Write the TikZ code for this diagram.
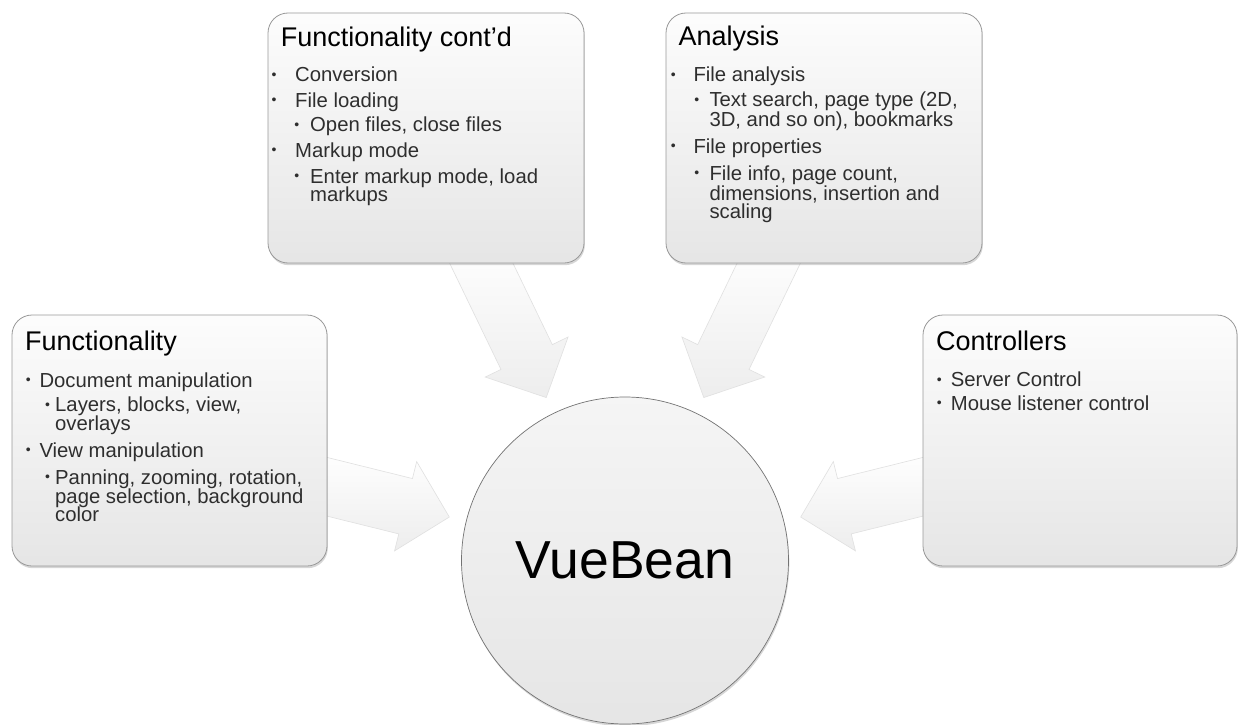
\documentclass[tikz,border=0pt]{standalone}
\usepackage{fontspec}
\setmainfont{Liberation Sans}
\usetikzlibrary{shadows}
\newcommand\tline[4]{\node[txt] (#1) at (#2,#3) {#4};}
\newcommand\tdot[3]{\node[bdot] (#1) at (#2,#3-2.6) {•};}
\begin{document}
\begin{tikzpicture}[x=1pt,y=-1pt,
  box/.style={rectangle, rounded corners=20pt, draw=black!40, line width=0.8pt,
    top color=black!1, bottom color=black!10, inner sep=0,
    drop shadow={opacity=0.32, shadow xshift=0.8pt, shadow yshift=-2.2pt, fill=black!50}},
  circ/.style={circle, draw=black!55, line width=0.7pt, top color=black!4,
    bottom color=black!10, inner sep=0, text=black,
    font=\fontsize{53.5}{53.5}\selectfont,
    drop shadow={opacity=0.32, shadow xshift=0.8pt, shadow yshift=-2.2pt, fill=black!50}},
  arr/.style={draw=black!12, line width=0.6pt, top color=white, bottom color=black!7},
  ttl/.style={anchor=base west, inner sep=0, font=\fontsize{27}{27}\selectfont, text=black},
  txt/.style={anchor=base west, inner sep=0, font=\fontsize{20.3}{20}\selectfont, text=black!82},
  bdot/.style={anchor=base, inner sep=0, font=\fontsize{14}{14}\selectfont, text=black!82}]
\useasboundingbox (0,0) rectangle (1239,725);
\fill[white] (0,0) rectangle (1239,725);

% centre circle
\node[circ, minimum size=327pt] (c) at (625,560.5) {VueBean};

% block arrows pointing at the circle
\foreach \a in {115.8,166.1,64.2,13.9}{
  \begin{scope}[shift={(c.center)}, rotate=\a]
    \path[arr] (181,0) -- (226,46) -- (226,28.5) -- (345,28.5) -- (345,-28.5)
      -- (226,-28.5) -- (226,-46) -- cycle;
  \end{scope}}

% boxes
\node[box, minimum width=315pt, minimum height=251pt] (fun) at (169.5,440.5) {};
\node[box, minimum width=316pt, minimum height=250pt] (cont) at (426,138) {};
\node[box, minimum width=316pt, minimum height=250pt] (ana) at (824,138) {};
\node[box, minimum width=314pt, minimum height=251pt] (ctl) at (1080,440.5) {};

% Functionality
\node[ttl] (funt) at (25,350) {Functionality};
\tdot{fd1}{28.3}{387.3}\tline{f1}{39.3}{387.3}{Document manipulation}
\tdot{fd2}{47.5}{411.7}\tline{f2}{55}{411.7}{Layers, blocks, view,}
\tline{f3}{55}{430}{overlays}
\tdot{fd4}{28.3}{457.3}\tline{f4}{39.3}{457.3}{View manipulation}
\tdot{fd5}{47.5}{484}\tline{f5}{55}{484}{Panning, zooming, rotation,}
\tline{f6}{55}{503.3}{page selection, background}
\tline{f7}{55}{521.7}{color}

% Functionality cont'd
\node[ttl] (contt) at (280.7,46.5) {Functionality cont’d};
\tdot{cd1}{274}{81.7}\tline{c1}{295}{81.7}{Conversion}
\tdot{cd2}{274}{107.3}\tline{c2}{295}{107.3}{File loading}
\tdot{cd3}{296.7}{131.7}\tline{c3}{310}{131.7}{Open files, close files}
\tdot{cd4}{274}{157.3}\tline{c4}{295}{157.3}{Markup mode}
\tdot{cd5}{296.7}{183.3}\tline{c5}{310}{183.3}{Enter markup mode, load}
\tline{c6}{310}{201.7}{markups}

% Analysis
\node[ttl] (anat) at (678.3,46) {Analysis};
\tdot{ad1}{673.3}{81.7}\tline{a1}{693.3}{81.7}{File analysis}
\tdot{ad2}{696.7}{106.7}\tline{a2}{709.3}{106.7}{Text search, page type (2D,}
\tline{a3}{709.3}{126.7}{3D, and so on), bookmarks}
\tdot{ad4}{673.3}{153.3}\tline{a4}{693.3}{153.3}{File properties}
\tdot{ad5}{696.7}{180}\tline{a5}{709.3}{180}{File info, page count,}
\tline{a6}{709.3}{200}{dimensions, insertion and}
\tline{a7}{709.3}{218.3}{scaling}

% Controllers
\node[ttl] (ctlt) at (936,350) {Controllers};
\tdot{kd1}{939.3}{386.7}\tline{k1}{950.7}{386.7}{Server Control}
\tdot{kd2}{939.3}{410}\tline{k2}{950.7}{410}{Mouse listener control}
\end{tikzpicture}
\end{document}
